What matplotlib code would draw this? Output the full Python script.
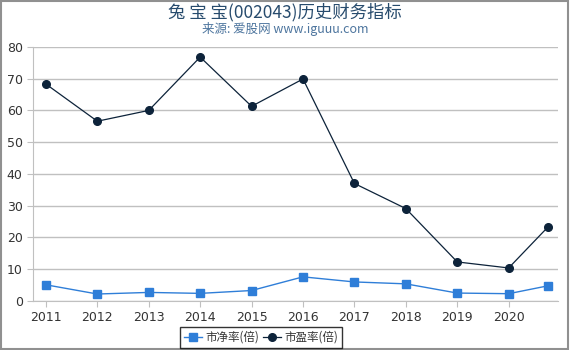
import matplotlib
matplotlib.use("Agg")
import matplotlib.pyplot as plt
from matplotlib.patches import Rectangle

plt.rcParams['font.family'] = ['DejaVu Sans', 'Noto Sans CJK SC']

years = [2011, 2012, 2013, 2014, 2015, 2016, 2017, 2018, 2019, 2020, 2020.77]
tick_years = [2011, 2012, 2013, 2014, 2015, 2016, 2017, 2018, 2019, 2020]
pb = [5.1, 2.2, 2.7, 2.4, 3.3, 7.6, 6.0, 5.4, 2.5, 2.3, 4.8]
pe = [68.3, 56.6, 60.0, 76.8, 61.3, 69.9, 37.0, 29.1, 12.3, 10.4, 23.4]

fig = plt.figure(figsize=(5.7, 3.5), dpi=100)
ax = fig.add_axes([0.058, 0.14, 0.921, 0.726])

ax.plot(years, pb, color='#2f7ed8', lw=1, marker='s', ms=5.5, label='市净率(倍)',
        markeredgecolor='#2f7ed8')
ax.plot(years, pe, color='#0d233a', lw=0.9, marker='o', ms=5.5, label='市盈率(倍)')

ax.set_xlim(2010.75, 2020.96)
ax.set_ylim(0, 80)
ax.set_yticks(range(0, 81, 10))
ax.set_xticks(tick_years)
ax.grid(axis='y', color='#c0c0c0', lw=1)
ax.set_axisbelow(True)
for s in ['top', 'right']:
    ax.spines[s].set_visible(False)
ax.spines['left'].set_color('#c0c0c0')
ax.spines['bottom'].set_color('#c0c0c0')
ax.tick_params(axis='both', colors='#c0c0c0', labelcolor='#333333', labelsize=9, length=4)

fig.text(0.5, 0.965, '兔 宝 宝(002043)历史财务指标', ha='center', va='center',
         fontsize=12.5, color='#274b6d', family=['Noto Sans CJK SC', 'DejaVu Sans'])
fig.text(0.5, 0.918, '来源: 爱股网 www.iguuu.com', ha='center', va='center',
         fontsize=9, color='#4d759e', family=['Noto Sans CJK SC', 'DejaVu Sans'])

leg = fig.legend(loc='center', bbox_to_anchor=(0.458, 0.036), ncol=2, frameon=True,
                 handlelength=1.5, handletextpad=0.3, columnspacing=0.4,
                 borderpad=0.35, prop={'family': ['Noto Sans CJK SC', 'DejaVu Sans'], 'size': 8.3})
leg.get_frame().set_edgecolor('black')
leg.get_frame().set_linewidth(1)
leg.get_frame().set_boxstyle('square', pad=0)
for t in leg.get_texts():
    t.set_color('#333333')

fig.patches.append(Rectangle((0.002, 0.003), 0.995, 0.994, transform=fig.transFigure,
                             fill=False, edgecolor='#909090', lw=1.5))

fig.savefig('out.png', dpi=100)
